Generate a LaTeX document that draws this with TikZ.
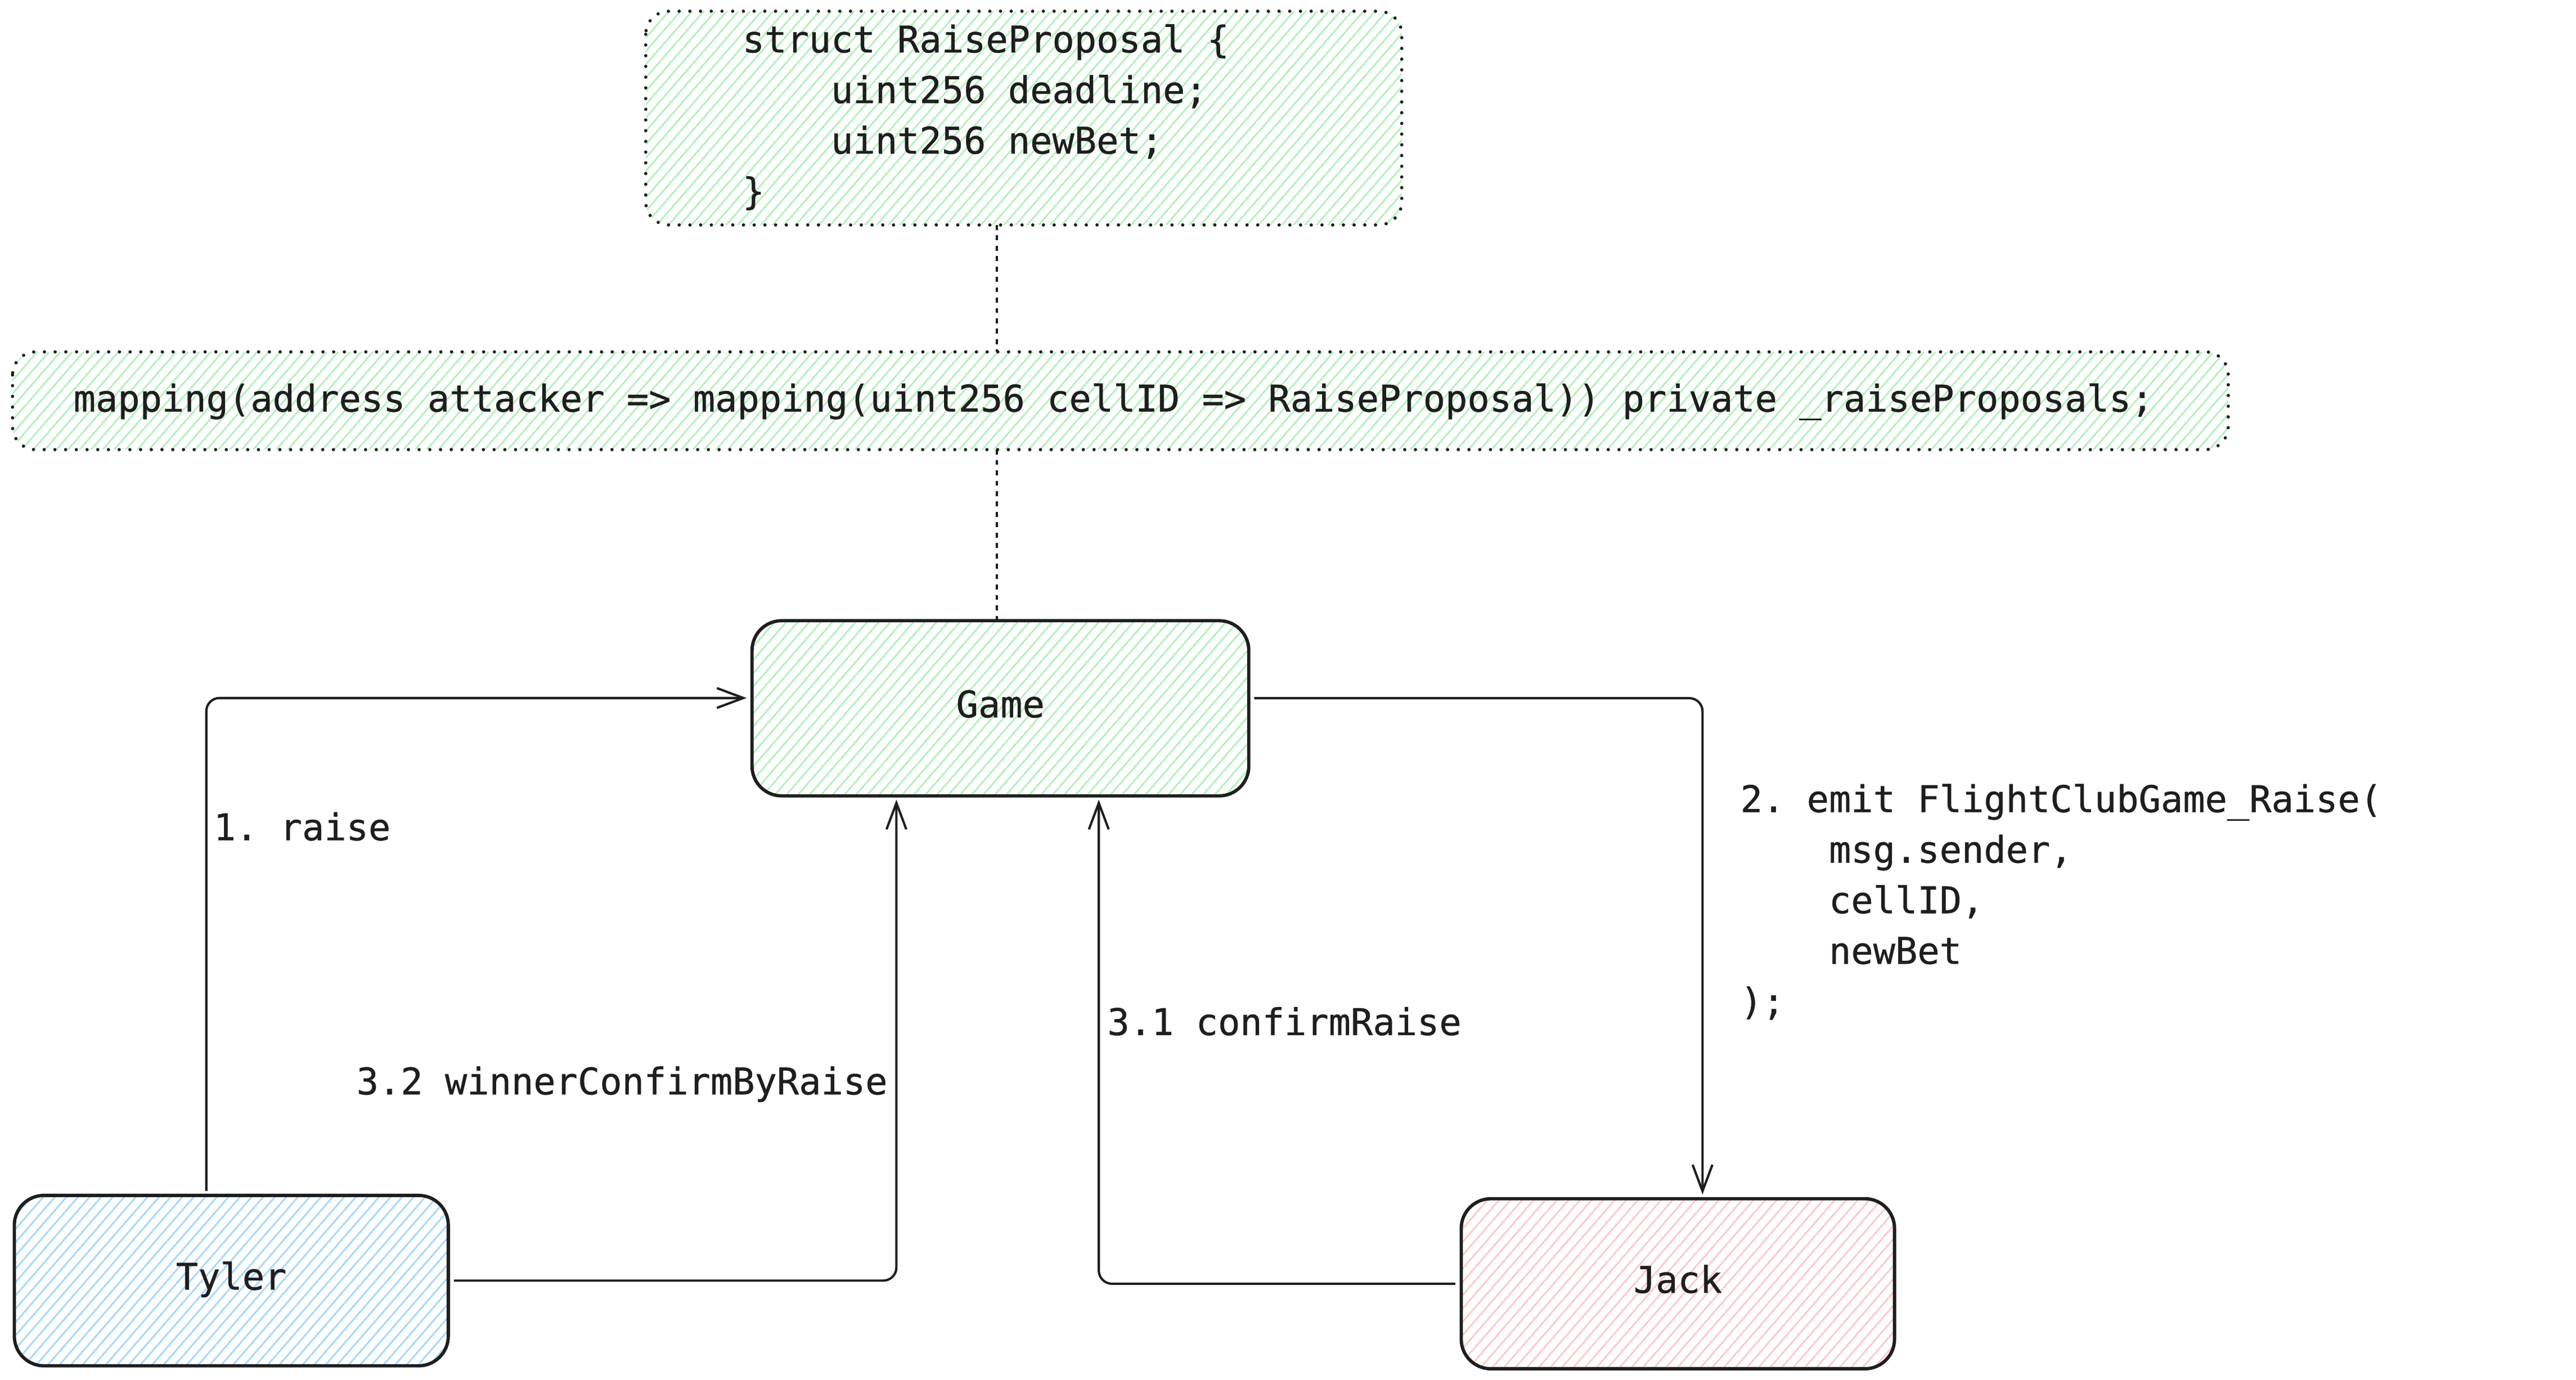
\documentclass[tikz,border=0pt]{standalone}
\usepackage{fontspec}
\newfontfamily\codefont[FakeBold=0.6]{DejaVu Sans Mono}
\usetikzlibrary{arrows.meta,patterns.meta}
\definecolor{ink}{HTML}{1E1E1E}
\definecolor{hgreen}{HTML}{B2F2BB}
\definecolor{hblue}{HTML}{A5D8FF}
\definecolor{hred}{HTML}{FFC9C9}
\frenchspacing
\begin{document}
\frenchspacing
\begin{tikzpicture}[x=1pt,y=-1pt,
  every node/.style={text=ink, font=\codefont\fontsize{22.3}{30.7}\selectfont\frenchspacing, inner sep=0pt, outer sep=0pt},
  hatch/.style={pattern={Lines[angle=49,distance=5.3pt,line width=1pt]}, pattern color=#1},
  solidbox/.style={draw=ink, line width=2pt, rounded corners=18pt, text height=11pt, text depth=0pt},
  dotfill/.style={hatch=hgreen, rounded corners=14pt},
  dotborder/.style={draw=ink, line width=2pt, rounded corners=14pt, dash pattern=on 0pt off 6.5pt, line cap=round},
  flow/.style={draw=ink, line width=1.4pt, rounded corners=8pt, -{Straight Barb[length=16pt,width=12pt,line width=1.4pt]}},
  link/.style={draw=ink, line width=1.4pt, dash pattern=on 3pt off 3.3pt},
  lbl/.style={anchor=base west},
]
\fill[white] (0,0) rectangle (1563,837.3);
\useasboundingbox (0,0) rectangle (1563,837.3);

% boxes
\node[dotfill, minimum width=458.7pt, minimum height=129.7pt] (Struct) at (621.15,71.65) {};
\draw[dotborder] (Struct.north west) rectangle (Struct.south east);
\node[dotfill, minimum width=1344.4pt, minimum height=59.3pt] (Map) at (679.8,243.15) {};
\draw[dotborder] (Map.north west) rectangle (Map.south east);
\node[solidbox, hatch=hgreen, minimum width=301.4pt, minimum height=106.3pt] (Game) at (607,429.75) {Game};
\node[solidbox, hatch=hblue, minimum width=263.3pt, minimum height=103.4pt] (Tyler) at (140.35,777) {Tyler};
\node[solidbox, hatch=hred, minimum width=262.9pt, minimum height=103.2pt] (Jack) at (1018.05,778.9) {Jack};

% code texts
\node[lbl] (structT) at (450.5,31.8) {\vtop{\hbox{struct RaiseProposal \{}\hbox{\phantom{0000}uint256 deadline;}\hbox{\phantom{0000}uint256 newBet;}\hbox{\}}}};
\node[lbl] (mapT) at (44.6,249.7) {mapping(address attacker => mapping(uint256 cellID => RaiseProposal)) private \_raiseProposals;};

% dotted links
\draw[link] ([xshift=-2pt]Game.north |- Struct.south) -- ([xshift=-2pt]Game.north |- Map.north);
\draw[link] ([xshift=-2pt]Game.north |- Map.south) -- ([xshift=-2pt]Game.north);

% flows
\draw[flow, shorten <=2.7pt, shorten >=3.3pt] ([xshift=116.5pt]Tyler.north west) |- ([yshift=6.25pt]Game.west);
\draw[flow, shorten <=3.4pt, shorten >=2.3pt] (Tyler.east) -| ([xshift=87.6pt]Game.south west);
\draw[flow, shorten <=3.6pt, shorten >=2.3pt] (Jack.west) -| ([xshift=210.4pt]Game.south west);
\draw[flow, shorten <=3.3pt, shorten >=2.6pt] ([yshift=6.15pt]Game.east) -| ([xshift=146.4pt]Jack.north west);

% labels
\node[lbl] (l1) at (129.6,509.8) {1. raise};
\node[lbl] (l32) at (216.3,664) {3.2 winnerConfirmByRaise};
\node[lbl] (l31) at (671.9,628) {3.1 confirmRaise};
\node[lbl] (l2) at (1056,492.7) {\vtop{\hbox{2. emit FlightClubGame\_Raise(}\hbox{\phantom{0000}msg.sender,}\hbox{\phantom{0000}cellID,}\hbox{\phantom{0000}newBet}\hbox{);}}};
\end{tikzpicture}
\end{document}
